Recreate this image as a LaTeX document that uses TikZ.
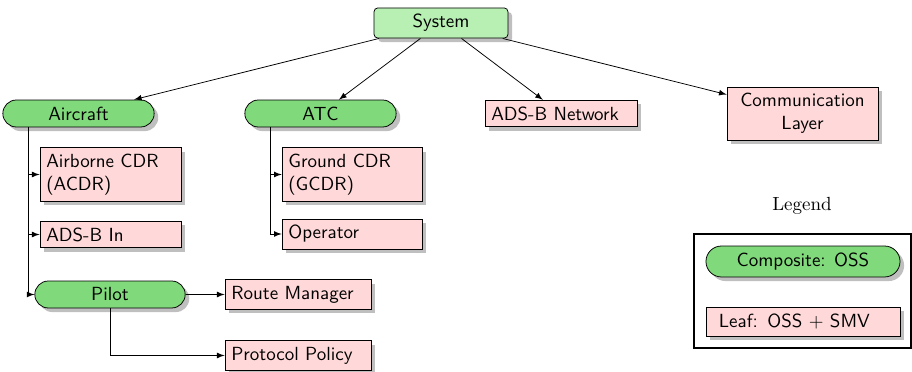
\documentclass[tikz,border=0pt]{standalone}
\usetikzlibrary{shapes.misc,shadows}
\definecolor{sysgreen}{HTML}{B8F0B4}
\definecolor{compgreen}{HTML}{80D97A}
\definecolor{leafpink}{HTML}{FFD9D9}
\begin{document}
\begin{tikzpicture}[x=0.5263pt,y=-0.5263pt,
    every node/.style={font=\sffamily},
    sysnode/.style={draw, rounded corners=2pt, fill=sysgreen, drop shadow, minimum width=70.5pt, minimum height=15.8pt},
    composite/.style={draw, rounded rectangle, fill=compgreen, drop shadow, minimum width=86.3pt, minimum height=14.2pt},
    leaf/.style={draw, fill=leafpink, drop shadow, align=left},
    link/.style={-latex}]
            \useasboundingbox (0,0) rectangle (912,372);
            \node[sysnode] (system) at (441,23) {System};
            \node[composite] (aircraft) at (78.5,113.5) {Aircraft};
            \node[composite] (atc) at (320.5,113.5) {ATC};
            \node[leaf, text width=73.4pt] (adsbnet) at (561,113.5) {ADS-B Network};
            \node[leaf, text width=72.8pt, align=center] (comm) at (802.5,113.5) {Communication\\Layer};
            \node[leaf, text width=67.6pt] (acdr) at (110.5,174.5) {Airborne CDR\\(ACDR)};
            \node[leaf, text width=67.6pt] (adsbin) at (110.5,234.5) {ADS-B In};
            \node[composite, minimum width=85.8pt] (pilot) at (110,294.5) {Pilot};
            \node[leaf, text width=70.2pt] (route) at (298,294.5) {Route Manager};
            \node[leaf, text width=70.2pt] (protocol) at (298,355.5) {Protocol Policy};
            \node[leaf, text width=67pt] (gcdr) at (352,174.5) {Ground CDR\\(GCDR)};
            \node[leaf, text width=67pt] (operator) at (352,234) {Operator};
            \draw[link] (system) -- (aircraft);
            \draw[link] (system) -- (atc);
            \draw[link] (system) -- (adsbnet);
            \draw[link] (system) -- (comm);
            \draw[link] ([xshift=-26.6pt]aircraft.south) |- (acdr.west);
            \draw[link] ([xshift=-26.6pt]aircraft.south) |- (adsbin.west);
            \draw[link] ([xshift=-26.6pt]aircraft.south) |- (pilot.west);
            \draw[link] ([xshift=-26.6pt]atc.south) |- (gcdr.west);
            \draw[link] ([xshift=-26.6pt]atc.south) |- (operator.west);
            \draw[link] (pilot.east) -- (route.west);
            \draw[link] (pilot.south) |- (protocol.west);
            % legend
            \node[font=\rmfamily] (legend) at (802,206) {Legend};
            \draw[line width=1pt] (694,234) rectangle (911,348);
            \node[composite, minimum width=108.8pt, minimum height=16.3pt] (legcomp) at (803,261.5) {Composite: OSS};
            \node[leaf, text width=88.5pt, inner xsep=6.8pt, minimum height=15.3pt] (legleaf) at (803,321.5) {Leaf: OSS + SMV};
        \end{tikzpicture}
\end{document}
